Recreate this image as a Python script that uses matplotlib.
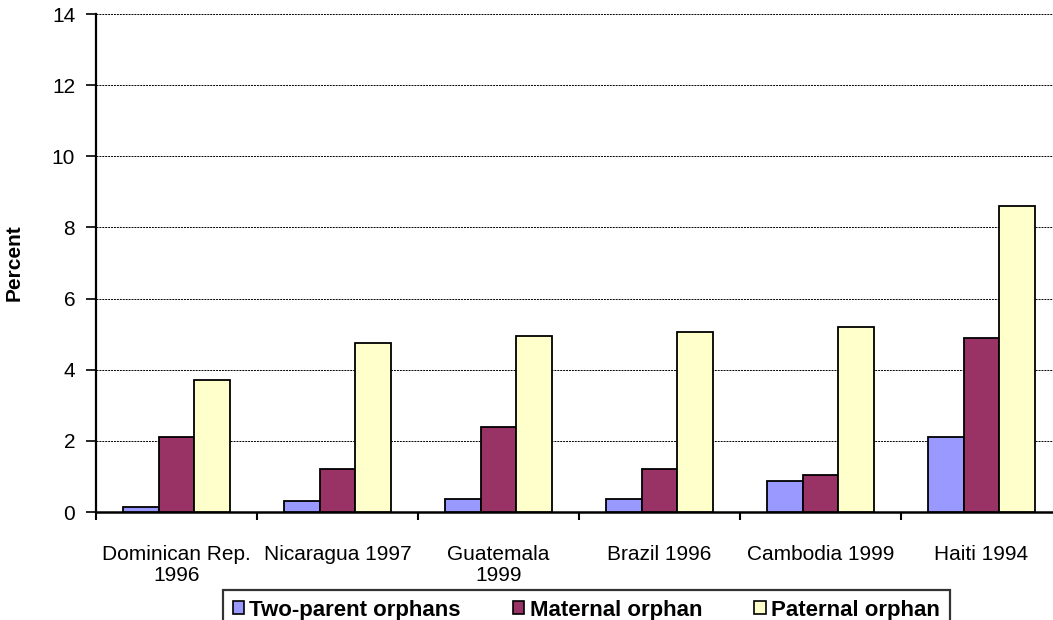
import matplotlib
matplotlib.use('Agg')
import matplotlib.pyplot as plt
import numpy as np

# Orphan prevalence by country/survey year
countries = ['Dominican Rep.\n1996', 'Nicaragua 1997', 'Guatemala\n1999',
             'Brazil 1996', 'Cambodia 1999', 'Haiti 1994']
two_parent = [0.15, 0.3, 0.37, 0.37, 0.87, 2.1]
maternal = [2.1, 1.2, 2.4, 1.2, 1.05, 4.9]
paternal = [3.7, 4.75, 4.95, 5.05, 5.2, 8.6]
series_names = ['Two-parent orphans', 'Maternal orphan', 'Paternal orphan']
colors = ['#9999FF', '#993366', '#FFFFCC']

plt.rcParams['font.family'] = ['Liberation Sans', 'DejaVu Sans']

W, H = 1053, 620
fig = plt.figure(figsize=(W / 100, H / 100), dpi=100)
ax = fig.add_axes([96 / W, 1 - 512 / H, 966 / W, 498 / H])

x = np.arange(len(countries))
bw = 0.22
for i, (vals, name, col) in enumerate(zip([two_parent, maternal, paternal], series_names, colors)):
    ax.bar(x + (i - 1) * bw, vals, bw, color=col, edgecolor='black',
           linewidth=1.3, label=name, zorder=3)

ax.set_xlim(-0.5, len(countries) - 0.5)
ax.set_ylim(0, 14)
ax.set_yticks(np.arange(0, 15, 2))
ax.yaxis.grid(True, color='black', linestyle=(0, (2, 1)), linewidth=0.7)
ax.set_axisbelow(True)

# category labels at centers, boundary tick marks as minor ticks
ax.set_xticks(x)
ax.set_xticklabels(countries, fontsize=15, linespacing=1.12, va='top')
ax.set_xticks(np.arange(-0.5, len(countries), 1), minor=True)
ax.tick_params(axis='x', which='major', length=0, pad=24)
ax.tick_params(axis='x', which='minor', length=6, width=1.5, direction='out')
ax.tick_params(axis='y', labelsize=15, length=7, width=1.2, pad=8)

for s in ['top', 'right']:
    ax.spines[s].set_visible(False)
ax.spines['left'].set_linewidth(1.6)
ax.spines['bottom'].set_linewidth(1.8)

ax.set_ylabel('Percent', fontsize=15, fontweight='bold', labelpad=20)

leg = fig.legend(loc='upper left', bbox_to_anchor=(222.7 / W, 1 - 589.7 / H),
                 ncol=3, frameon=True, fancybox=False, edgecolor='black',
                 prop={'weight': 'bold', 'size': 16}, handlelength=0.5,
                 handleheight=0.5, handletextpad=0.25, columnspacing=2.35,
                 borderpad=0.45, borderaxespad=0)
leg.get_frame().set_linewidth(1.6)
for h in leg.legend_handles:
    h.set_linewidth(1.2)

fig.savefig('out.png', dpi=100)
